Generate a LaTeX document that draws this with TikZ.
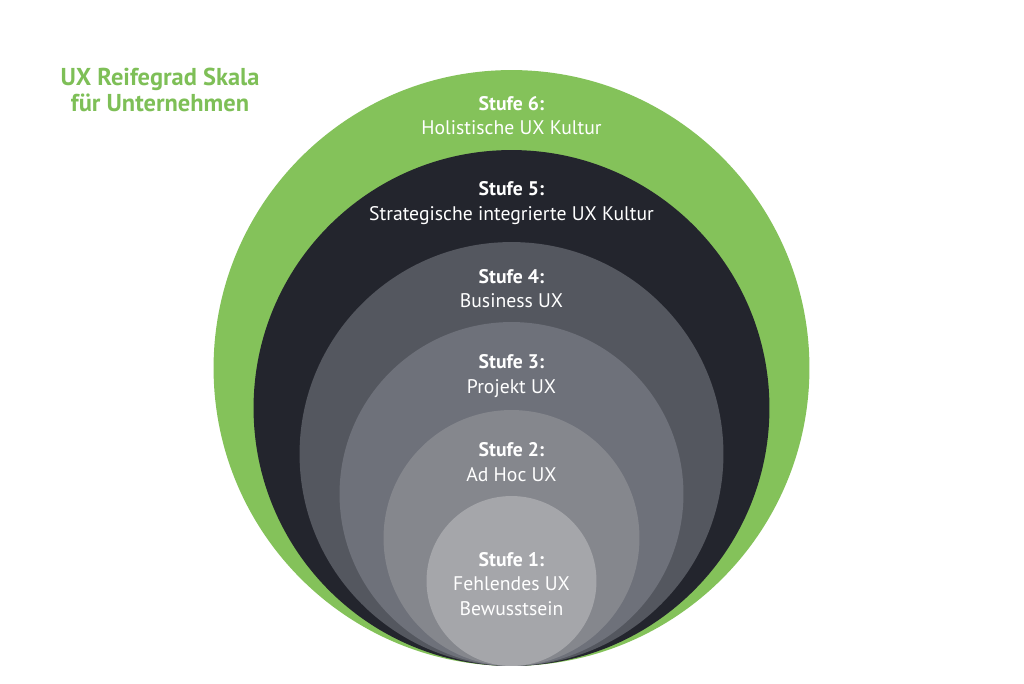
\documentclass[tikz,border=0pt]{standalone}
\usepackage{fontspec}
\setmainfont{PT Sans}
\usetikzlibrary{positioning}
\definecolor{uxgreen}{HTML}{84C25A}
\definecolor{titlegreen}{HTML}{7EBF57}
\definecolor{stagefive}{HTML}{23252D}
\definecolor{stagefour}{HTML}{54575F}
\definecolor{stagethree}{HTML}{6E717A}
\definecolor{stagetwo}{HTML}{85878D}
\definecolor{stageone}{HTML}{A5A6AA}
\tikzset{
  stage/.style={circle, inner sep=0pt, draw=none},   % one ring of the scale
  stagelabel/.style={text=white, align=center, font=\fontsize{11.2}{14}\selectfont},
}

\begin{document}
\begin{tikzpicture}[x=0.02cm, y=-0.02cm]
  \useasboundingbox (0,0) rectangle (1024,683);

  % nested circles, all touching at the bottom
  \node[stage, fill=uxgreen,    minimum size=11.92cm] (s6) at (511.5,368) {};
  \node[stage, fill=stagefive,  minimum size=10.32cm] (s5) at (511.5,408) {};
  \node[stage, fill=stagefour,  minimum size=8.48cm]  (s4) at (511.5,454) {};
  \node[stage, fill=stagethree, minimum size=6.88cm]  (s3) at (511.5,494) {};
  \node[stage, fill=stagetwo,   minimum size=5.12cm]  (s2) at (511.5,538) {};
  \node[stage, fill=stageone,   minimum size=3.40cm]  (s1) at (511.5,581) {};

  % labels
  \node[stagelabel] (l6) at (511.5,115.5) {\textbf{Stufe 6:}\\Holistische UX Kultur};
  \node[stagelabel] (l5) at (511.5,203)   {\textbf{Stufe 5:}\\Strategische integrierte UX Kultur};
  \node[stagelabel] (l4) at (511.5,288.5) {\textbf{Stufe 4:}\\Business UX};
  \node[stagelabel] (l3) at (511.5,376)   {\textbf{Stufe 3:}\\Projekt UX};
  \node[stagelabel] (l2) at (511.5,462)   {\textbf{Stufe 2:}\\Ad Hoc UX};
  \node[stagelabel] (l1) at (511.5,584)   {\textbf{Stufe 1:}\\Fehlendes UX\\Bewusstsein};

  \node[text=titlegreen, align=center, font=\bfseries\fontsize{13.9}{14.8}\selectfont]
    (title) at (160,90) {UX Reifegrad Skala\\für Unternehmen};
\end{tikzpicture}
\end{document}
